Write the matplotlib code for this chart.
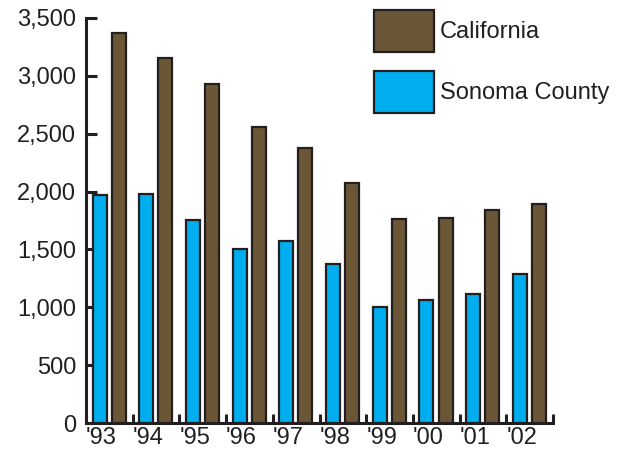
import matplotlib
matplotlib.use("Agg")
import matplotlib.pyplot as plt
import numpy as np

plt.rcParams['font.family'] = ['Liberation Sans', 'DejaVu Sans']

years = ["'93", "'94", "'95", "'96", "'97", "'98", "'99", "'00", "'01", "'02"]
sonoma = [1970, 1980, 1750, 1500, 1570, 1370, 1000, 1065, 1115, 1285]
california = [3370, 3150, 2930, 2560, 2380, 2070, 1760, 1775, 1845, 1890]

blue = '#00AEEF'
brown = '#6B5636'
ink = '#231F20'

fig = plt.figure(figsize=(6.28, 4.51), dpi=100)
ax = fig.add_axes([86/628, 28/451, 467/628, 405/451])

x = np.arange(len(years))
w = 0.30
ax.bar(x - 0.21, sonoma, w, color=blue, edgecolor=ink, linewidth=1.6, label='Sonoma County', zorder=3)
ax.bar(x + 0.20, california, w, color=brown, edgecolor=ink, linewidth=1.6, label='California', zorder=3)

ax.set_xlim(-0.5, len(years) - 0.5)
ax.set_ylim(0, 3500)
ax.set_yticks(np.arange(0, 3501, 500))
ax.set_yticklabels([f'{v:,}' for v in range(0, 3501, 500)])

# year labels sit just right of the boundary ticks
ax.set_xticks(np.arange(-0.5, len(years)))
ax.set_xticklabels(years + [''], ha='left')

for s in ['top', 'right']:
    ax.spines[s].set_visible(False)
for s in ['left', 'bottom']:
    ax.spines[s].set_linewidth(2.2)
    ax.spines[s].set_color(ink)

ax.tick_params(axis='y', direction='in', length=8, width=2.2, color=ink,
               labelsize=17, labelcolor=ink, pad=7)
ax.tick_params(axis='x', direction='in', length=6.5, width=2.2, color=ink,
               labelsize=17, labelcolor=ink, pad=3)

h, l = ax.get_legend_handles_labels()
fig.legend(h[::-1], l[::-1], loc='upper left', bbox_to_anchor=(374/628, 1 - 10/451),
           frameon=False, fontsize=17, handlelength=2.54, handleheight=2.36,
           labelspacing=0.8, handletextpad=0.25, borderpad=0, borderaxespad=0,
           labelcolor=ink)

fig.savefig('out.png', dpi=100)
